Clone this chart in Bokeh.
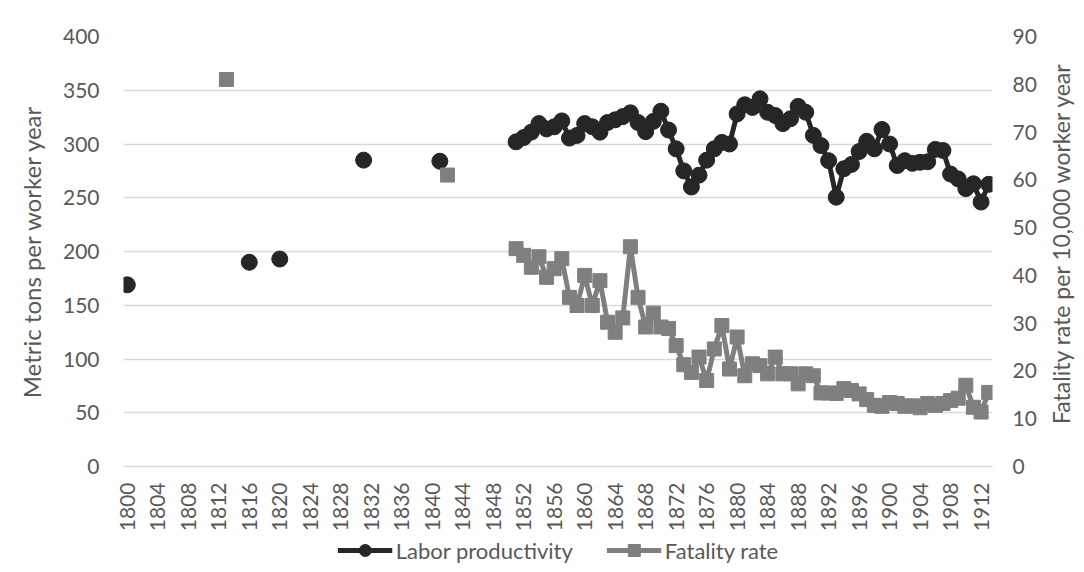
import math
from bokeh.plotting import figure
from bokeh.layouts import column, row
from bokeh.models import Range1d, LinearAxis, FixedTicker, Legend, LegendItem, Label
from bokeh.embed import file_html
from bokeh.resources import INLINE

# ---- data ----
prod_years = [1800, 1816, 1820, 1831, 1841] + list(range(1851, 1914))
prod_values = [169, 190, 193, 285, 284,
               302, 306, 311, 319, 314, 316, 321.5, 305.5, 308, 319,
               316, 311, 320, 322.5, 325.5, 329, 320, 311.5, 321, 330.5,
               313, 295.5, 275, 260, 271, 285, 295.5, 301.5, 300, 328,
               336.5, 334, 342, 329.5, 326.5, 319, 323.5, 335, 329.5, 308,
               298.5, 284.5, 250.5, 277, 281, 293, 302.5, 295.5, 313.5, 300,
               280, 284.5, 282, 283, 283.5, 295, 294, 272, 267.5, 258.5,
               263, 246, 262.5]

fatal_years = [1813, 1842] + list(range(1851, 1914))
fatal_values = [81, 61,
                45.6, 44.2, 41.7, 43.9, 39.6, 41.4, 43.5, 35.4, 33.7, 40.0,
                33.7, 38.9, 30.2, 28.1, 31.1, 46.0, 35.4, 29.2, 32.1, 29.2,
                28.9, 25.3, 21.3, 19.7, 22.9, 18.0, 24.6, 29.5, 20.4, 27.1,
                19.0, 21.5, 21.1, 19.4, 22.9, 19.4, 19.4, 17.3, 19.4, 19.0,
                15.4, 15.4, 15.3, 16.3, 15.9, 15.2, 14.0, 12.8, 12.6, 13.4,
                13.2, 12.6, 12.7, 12.3, 13.2, 12.8, 13.2, 13.8, 14.3, 17.0,
                12.4, 11.4, 15.5]

series_names = ["Labor productivity", "Fatality rate"]
left_title = "Metric tons per worker year"
right_title = "Fatality rate per 10,000 worker year"
x_ticks = list(range(1800, 1913, 4))
left_ticks = list(range(0, 401, 50))
right_ticks = list(range(0, 91, 10))

TEXT = "#595959"
GRID = "#d9d9d9"
FONT = "Lato"
BLACK = "#262626"
GRAY = "#7f7f7f"
NAN = float("nan")

MB_L, MB_R, MB_T, MB_B = 123, 52, 36, 68
MAIN_W, MAIN_H = 1044, 534


def with_gaps(xs, ys):
    gx, gy = [], []
    for i, (x, y) in enumerate(zip(xs, ys)):
        if i > 0 and x - xs[i - 1] > 1:
            gx.append(NAN)
            gy.append(NAN)
        gx.append(x)
        gy.append(y)
    return gx, gy


def plain_axis(ax, standoff):
    ax.major_tick_line_color = None
    ax.minor_tick_line_color = None
    ax.major_tick_out = 0
    ax.major_tick_in = 0
    ax.minor_tick_out = 0
    ax.minor_tick_in = 0
    ax.major_label_text_font = FONT
    ax.major_label_text_font_size = "21px"
    ax.major_label_text_color = TEXT
    ax.major_label_standoff = standoff


p = figure(width=MAIN_W, height=MAIN_H, output_backend="svg", toolbar_location=None,
           x_range=Range1d(1799.5, 1913.5), y_range=Range1d(0, 400),
           min_border_left=MB_L, min_border_right=MB_R, min_border_top=MB_T,
           min_border_bottom=MB_B)
p.outline_line_color = None
p.background_fill_color = "white"
p.border_fill_color = "white"

p.extra_y_ranges = {"fat": Range1d(0, 90)}

# x axis
xa = p.xaxis[0]
xa.ticker = FixedTicker(ticks=x_ticks)
xa.major_label_orientation = math.pi / 2
plain_axis(xa, 16)
xa.axis_line_color = GRID
xa.axis_line_width = 1.5

# left axis
ya = p.yaxis[0]
ya.ticker = FixedTicker(ticks=left_ticks)
plain_axis(ya, 24)
ya.axis_line_color = None
ya.axis_label = left_title
ya.axis_label_text_font = FONT
ya.axis_label_text_font_size = "24px"
ya.axis_label_text_font_style = "normal"
ya.axis_label_text_color = TEXT
ya.axis_label_standoff = 14

# right axis (labels only; title drawn in a strip at the right)
ra = LinearAxis(y_range_name="fat", ticker=FixedTicker(ticks=right_ticks))
plain_axis(ra, 20)
ra.axis_line_color = None
p.add_layout(ra, "right")

p.xgrid.grid_line_color = None
p.ygrid.grid_line_color = GRID
p.ygrid.grid_line_width = 1.5
p.ygrid.ticker = FixedTicker(ticks=left_ticks)

# series
px, py = with_gaps(prod_years, prod_values)
fx, fy = with_gaps(fatal_years, fatal_values)

p.line(px, py, line_color=BLACK, line_width=5)
p.scatter(prod_years, prod_values, marker="circle", size=16,
          fill_color=BLACK, line_color=BLACK)
p.line(fx, fy, line_color=GRAY, line_width=5, y_range_name="fat")
p.scatter(fatal_years, fatal_values, marker="square", size=14,
          fill_color=GRAY, line_color=GRAY, y_range_name="fat")

# right axis title strip
tf = figure(width=36, height=MAIN_H, output_backend="svg", toolbar_location=None,
            x_axis_type=None, y_axis_type=None, min_border_left=0,
            min_border_right=0, min_border_top=MB_T, min_border_bottom=MB_B,
            x_range=Range1d(0, 1), y_range=Range1d(0, 1))
tf.outline_line_color = None
tf.grid.grid_line_color = None
tf.add_layout(Label(x=0.45, y=0.52, text=right_title, angle=math.pi / 2,
                    text_align="center", text_baseline="middle",
                    text_font=FONT, text_font_size="23px", text_color=TEXT))

# legend strip below the chart
lf = figure(width=MAIN_W, height=32, output_backend="svg", toolbar_location=None,
            x_axis_type=None, y_axis_type=None, min_border_left=MB_L,
            min_border_right=MB_R, min_border_top=0, min_border_bottom=0,
            x_range=Range1d(0, 1), y_range=Range1d(0, 1))
lf.outline_line_color = None
lf.grid.grid_line_color = None
ll1 = lf.line([NAN], [NAN], line_color=BLACK, line_width=5)
ls1 = lf.scatter([NAN], [NAN], marker="circle", size=15, fill_color=BLACK, line_color=BLACK)
ll2 = lf.line([NAN], [NAN], line_color=GRAY, line_width=5)
ls2 = lf.scatter([NAN], [NAN], marker="square", size=14, fill_color=GRAY, line_color=GRAY)
legend = Legend(items=[LegendItem(label=series_names[0], renderers=[ll1, ls1], index=0),
                       LegendItem(label=series_names[1], renderers=[ll2, ls2], index=0)],
                orientation="horizontal", location="center",
                label_text_font=FONT, label_text_font_size="22px",
                label_text_color=TEXT, glyph_width=55, glyph_height=30,
                spacing=33, label_standoff=4, border_line_color=None,
                background_fill_alpha=0, padding=0, margin=0)
lf.add_layout(legend, "center")

layout = row(column(p, lf, spacing=0), tf, spacing=0)
open("out.html", "w").write(file_html(layout, INLINE))
